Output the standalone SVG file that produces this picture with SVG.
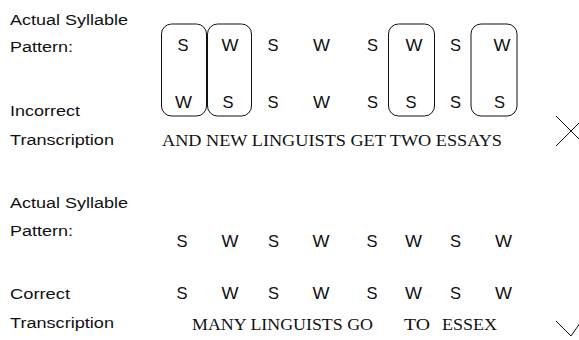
<svg xmlns="http://www.w3.org/2000/svg" width="579" height="340" viewBox="0 0 579 340">
  <style>
    .lbl { font-family: "Liberation Sans", Arial, sans-serif; font-size: 15.5px; fill: #111; }
    .syl { font-family: "Liberation Sans", Arial, sans-serif; font-size: 16.5px; fill: #111; }
    .tr  { font-family: "Liberation Serif", "Times New Roman", serif; font-size: 16px; fill: #111; }
    .box { fill: none; stroke: #111; stroke-width: 1; }
    .mark { fill: none; stroke: #111; stroke-width: 1; }
  </style>
  <rect width="579" height="340" fill="#fff"/>

  <!-- Upper block: incorrect transcription -->
  <g id="incorrect-labels">
    <text class="lbl" x="10" y="25" textLength="118" lengthAdjust="spacingAndGlyphs">Actual Syllable</text>
    <text class="lbl" x="10" y="52" textLength="63" lengthAdjust="spacingAndGlyphs">Pattern:</text>
    <text class="lbl" x="10" y="116" textLength="70" lengthAdjust="spacingAndGlyphs">Incorrect</text>
    <text class="lbl" x="10" y="145" textLength="104" lengthAdjust="spacingAndGlyphs">Transcription</text>
  </g>

  <g id="incorrect-groupings">
    <rect class="box" x="161.5" y="24" width="45" height="92" rx="10"/>
    <rect class="box" x="207.5" y="24" width="44" height="92" rx="10"/>
    <rect class="box" x="388.5" y="24" width="46" height="92" rx="10"/>
    <rect class="box" x="471" y="24" width="46" height="92" rx="10"/>
  </g>

  <g id="actual-pattern-1">
    <text class="syl" x="177.5" y="51" textLength="11" lengthAdjust="spacingAndGlyphs">S</text>
    <text class="syl" x="221.5" y="51" textLength="17" lengthAdjust="spacingAndGlyphs">W</text>
    <text class="syl" x="267.5" y="51" textLength="11" lengthAdjust="spacingAndGlyphs">S</text>
    <text class="syl" x="313" y="51" textLength="17" lengthAdjust="spacingAndGlyphs">W</text>
    <text class="syl" x="367" y="51" textLength="11" lengthAdjust="spacingAndGlyphs">S</text>
    <text class="syl" x="405.5" y="51" textLength="17" lengthAdjust="spacingAndGlyphs">W</text>
    <text class="syl" x="450" y="51" textLength="11" lengthAdjust="spacingAndGlyphs">S</text>
    <text class="syl" x="493.5" y="51" textLength="17" lengthAdjust="spacingAndGlyphs">W</text>
  </g>

  <g id="heard-pattern">
    <text class="syl" x="175" y="108" textLength="17" lengthAdjust="spacingAndGlyphs">W</text>
    <text class="syl" x="222.5" y="108" textLength="11" lengthAdjust="spacingAndGlyphs">S</text>
    <text class="syl" x="267.5" y="108" textLength="11" lengthAdjust="spacingAndGlyphs">S</text>
    <text class="syl" x="313" y="108" textLength="17" lengthAdjust="spacingAndGlyphs">W</text>
    <text class="syl" x="367" y="108" textLength="11" lengthAdjust="spacingAndGlyphs">S</text>
    <text class="syl" x="405.5" y="108" textLength="11" lengthAdjust="spacingAndGlyphs">S</text>
    <text class="syl" x="450" y="108" textLength="11" lengthAdjust="spacingAndGlyphs">S</text>
    <text class="syl" x="494" y="108" textLength="11" lengthAdjust="spacingAndGlyphs">S</text>
  </g>

  <g id="incorrect-transcription">
    <text class="tr" x="162" y="146" textLength="340" lengthAdjust="spacingAndGlyphs">AND NEW LINGUISTS GET TWO ESSAYS</text>
    <path class="mark" d="M556 116 L586 146 M556 146 L586 116"/>
  </g>

  <!-- Lower block: correct transcription -->
  <g id="correct-labels">
    <text class="lbl" x="10" y="208" textLength="118" lengthAdjust="spacingAndGlyphs">Actual Syllable</text>
    <text class="lbl" x="10" y="236" textLength="63" lengthAdjust="spacingAndGlyphs">Pattern:</text>
    <text class="lbl" x="10" y="299" textLength="60" lengthAdjust="spacingAndGlyphs">Correct</text>
    <text class="lbl" x="10" y="328" textLength="104" lengthAdjust="spacingAndGlyphs">Transcription</text>
  </g>

  <g id="actual-pattern-2">
    <text class="syl" x="176.5" y="247" textLength="11" lengthAdjust="spacingAndGlyphs">S</text>
    <text class="syl" x="221.5" y="247" textLength="17" lengthAdjust="spacingAndGlyphs">W</text>
    <text class="syl" x="268" y="247" textLength="11" lengthAdjust="spacingAndGlyphs">S</text>
    <text class="syl" x="312.5" y="247" textLength="17" lengthAdjust="spacingAndGlyphs">W</text>
    <text class="syl" x="366.5" y="247" textLength="11" lengthAdjust="spacingAndGlyphs">S</text>
    <text class="syl" x="405" y="247" textLength="17" lengthAdjust="spacingAndGlyphs">W</text>
    <text class="syl" x="450" y="247" textLength="11" lengthAdjust="spacingAndGlyphs">S</text>
    <text class="syl" x="495" y="247" textLength="17" lengthAdjust="spacingAndGlyphs">W</text>
  </g>

  <g id="correct-pattern">
    <text class="syl" x="176.5" y="299" textLength="11" lengthAdjust="spacingAndGlyphs">S</text>
    <text class="syl" x="221.5" y="299" textLength="17" lengthAdjust="spacingAndGlyphs">W</text>
    <text class="syl" x="268" y="299" textLength="11" lengthAdjust="spacingAndGlyphs">S</text>
    <text class="syl" x="312.5" y="299" textLength="17" lengthAdjust="spacingAndGlyphs">W</text>
    <text class="syl" x="366.5" y="299" textLength="11" lengthAdjust="spacingAndGlyphs">S</text>
    <text class="syl" x="405" y="299" textLength="17" lengthAdjust="spacingAndGlyphs">W</text>
    <text class="syl" x="450" y="299" textLength="11" lengthAdjust="spacingAndGlyphs">S</text>
    <text class="syl" x="495" y="299" textLength="17" lengthAdjust="spacingAndGlyphs">W</text>
  </g>

  <g id="correct-transcription">
    <text class="tr" x="192" y="330" textLength="181" lengthAdjust="spacingAndGlyphs">MANY LINGUISTS GO</text>
    <text class="tr" x="404" y="330" textLength="26" lengthAdjust="spacingAndGlyphs">TO</text>
    <text class="tr" x="442" y="330" textLength="55" lengthAdjust="spacingAndGlyphs">ESSEX</text>
    <path class="mark" d="M556 321 L571 336 L587 313"/>
  </g>
</svg>
